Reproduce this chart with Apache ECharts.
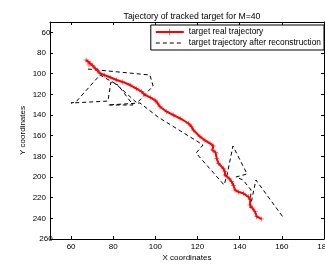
<!DOCTYPE html>
<html>
<head>
<meta charset="utf-8">
<script src="https://cdn.jsdelivr.net/npm/echarts@6/dist/echarts.min.js"></script>
<style>
html, body { margin: 0; padding: 0; background: #fff; }
#myChart { width: 325px; height: 268px; }
</style>
</head>
<body>
<div id="myChart"></div>
<script>
// tick labels
let xTicks = [60, 80, 100, 120, 140, 160, 180]
let yTicks = [60, 80, 100, 120, 140, 160, 180, 200, 220, 240, 260]
// real trajectory (X, Y)
let realX = [67.1, 68.0, 69.0, 68.5, 70.2, 71.4, 72.5, 73.7, 76.0, 78.5, 81.6, 84.5, 88.0, 91.0, 93.5, 95.1, 97.5, 99.8, 101.0, 102.2,
    105.4, 108.5, 111.7, 115.6, 117.0, 118.0, 121.2, 123.5, 125.9, 127.5, 127.0, 128.5, 129.1, 129.9, 132.2, 133.0, 133.0, 135.0,
    136.2, 137.0, 137.8, 139.5, 141.7, 144.1, 145.0, 144.9, 146.0, 147.3, 148.1, 150.4]
let realY = [86.8, 88.5, 90.0, 91.5, 92.0, 94.8, 97.0, 99.6, 101.5, 103.5, 106.1, 108.0, 111.0, 114.5, 117.5, 120.6, 123.0, 125.5, 128.5, 132.0,
    136.8, 140.0, 143.2, 148.0, 151.0, 154.5, 161.0, 164.5, 167.4, 170.0, 173.9, 176.0, 181.9, 186.7, 191.6, 195.0, 198.1, 201.5,
    204.6, 208.0, 212.6, 214.5, 215.8, 219.1, 222.0, 227.1, 230.0, 233.6, 238.4, 240.6]
// reconstructed trajectory (X, Y)
let recX = [68.0, 97.4, 98.9, 91.3, 81.3, 73.7, 62.3, 60.0, 77.5, 78.9, 82.3, 89.4, 77.5, 92.7, 101.2, 122.6, 119.3, 132.6,
    134.0, 136.8, 143.5, 138.2, 141.6, 145.4, 144.9, 147.7, 160.5]
let recY = [95.5, 101.3, 111.9, 128.4, 110.0, 101.3, 127.4, 128.4, 126.5, 108.1, 111.0, 130.3, 130.3, 128.4, 141.9, 169.0, 176.8, 207.7,
    198.1, 170.0, 197.1, 200.0, 202.9, 212.6, 230.0, 202.9, 238.7]

let myChart = echarts.init(document.getElementById('myChart'))

let font = 'Liberation Sans'
let plus = 'path://M0,4.5H10V5.5H0Z M4.5,0H5.5V10H4.5Z'

function baseAxis(ticks, extra) {
    return Object.assign({
        type: 'value',
        splitLine: { show: false },
        axisLine: { show: true, onZero: false, lineStyle: { color: '#000', width: 1 } },
        axisTick: { show: true, inside: true, length: 3, customValues: ticks, lineStyle: { color: '#000' } },
        axisLabel: {
            color: '#000', fontSize: 8, fontFamily: font, margin: 4,
            customValues: ticks, alignMaxLabel: 'center', alignMinLabel: 'center'
        },
        nameMoveOverlap: false,
        nameTextStyle: { color: '#000', fontSize: 8, fontFamily: font }
    }, extra)
}

let option = {
    animation: false,
    backgroundColor: '#fff',
    title: {
        text: 'Tajectory of tracked target for M=40',
        left: 187,
        textAlign: 'center',
        top: 7,
        textStyle: { color: '#000', fontSize: 8.7, fontWeight: 'normal', fontFamily: font }
    },
    legend: {
        orient: 'vertical',
        right: 1,
        top: 25,
        backgroundColor: '#fff',
        borderColor: '#000',
        borderWidth: 1,
        borderRadius: 0,
        padding: [3, 3, 3, 4],
        itemGap: 3,
        itemWidth: 28,
        itemHeight: 8,
        textStyle: { color: '#000', fontSize: 8.4, fontFamily: font },
        data: [
            { name: 'target real trajectory' },
            { name: 'target trajectory after reconstruction', itemStyle: { opacity: 0 }, lineStyle: { type: [4, 3], width: 1, color: '#000' } }
        ]
    },
    grid: { left: 50, right: 1, top: 22, bottom: 29, containLabel: false, outerBoundsMode: 'none' },
    xAxis: [
        baseAxis(xTicks, { min: 50, max: 180, name: 'X coordinates', nameLocation: 'middle', nameGap: 15 }),
        baseAxis(xTicks, { min: 50, max: 180, position: 'top' })
    ],
    yAxis: [
        baseAxis(yTicks, { min: 50, max: 260, inverse: true, name: 'Y coordinates', nameLocation: 'middle', nameGap: 23 }),
        baseAxis(yTicks, { min: 50, max: 260, inverse: true, position: 'right' })
    ],
    series: [
        {
            name: 'target real trajectory',
            type: 'line',
            data: realX.map((x, i) => [x, realY[i]]),
            symbol: plus,
            symbolSize: 5,
            showSymbol: true,
            lineStyle: { color: '#ff0000', width: 2 },
            itemStyle: { color: '#ff0000' },
            z: 3
        },
        {
            name: 'target trajectory after reconstruction',
            type: 'line',
            data: recX.map((x, i) => [x, recY[i]]),
            symbol: 'none',
            lineStyle: { color: '#000', width: 1, type: [4, 3] },
            itemStyle: { color: '#000' },
            z: 2
        }
    ]
}
// hide labels on the top and right copies of the axes
option.xAxis[1].axisLabel.show = false
option.yAxis[1].axisLabel.show = false
myChart.setOption(option)
</script>
</body>
</html>
